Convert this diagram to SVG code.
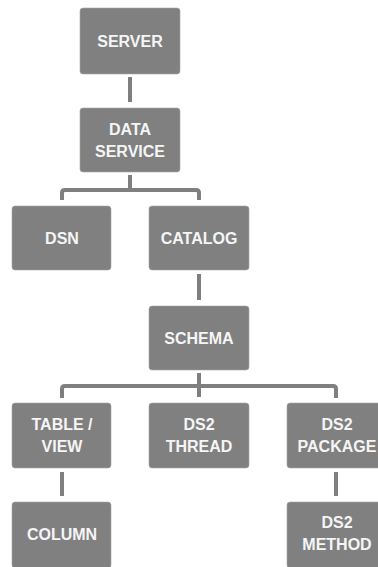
<svg xmlns="http://www.w3.org/2000/svg" width="378" height="567" viewBox="0 0 378 567">
<style>
.box{fill:#808080;stroke:#a6a6a6;stroke-width:0.6}
.t{font-family:"Liberation Sans",Arial,sans-serif;font-weight:bold;font-size:16px;fill:#f5f5f5;text-anchor:middle}
.c{fill:none;stroke:#7f7f7f;stroke-width:4;stroke-linejoin:round}
</style>
<rect width="378" height="567" fill="#ffffff"/>
<g id="connectors">
<path class="c" d="M130,77 V102"/>
<path class="c" d="M130,175 V190 M62,200 V193 Q62,190 65,190 H196 Q199,190 199,193 V200"/>
<path class="c" d="M199,274 V300"/>
<path class="c" d="M199,373 V397 M62,398 V389 Q62,386 65,386 H333 Q336,386 336,389 V398"/>
<path class="c" d="M62,472 V496"/>
<path class="c" d="M336,472 V496"/>
</g>
<g id="server"><rect class="box" x="80" y="8" width="100" height="66" rx="3"/><text class="t" x="130" y="47">SERVER</text></g>
<g id="dataservice"><rect class="box" x="80" y="108" width="100" height="64" rx="3"/><text class="t" x="130" y="135">DATA</text><text class="t" x="130" y="157">SERVICE</text></g>
<g id="dsn"><rect class="box" x="12" y="206" width="99" height="64" rx="3"/><text class="t" x="62" y="244">DSN</text></g>
<g id="catalog"><rect class="box" x="149" y="206" width="100" height="64" rx="3"/><text class="t" x="199" y="244">CATALOG</text></g>
<g id="schema"><rect class="box" x="149" y="306" width="100" height="64" rx="3"/><text class="t" x="199" y="344">SCHEMA</text></g>
<g id="tableview"><rect class="box" x="12" y="403" width="99" height="65" rx="3"/><text class="t" x="62" y="430">TABLE /</text><text class="t" x="62" y="452">VIEW</text></g>
<g id="ds2thread"><rect class="box" x="149" y="403" width="100" height="65" rx="3"/><text class="t" x="199" y="430">DS2</text><text class="t" x="199" y="452">THREAD</text></g>
<g id="ds2package"><rect class="box" x="287" y="403" width="100" height="65" rx="3"/><text class="t" x="337" y="430">DS2</text><text class="t" x="337" y="452">PACKAGE</text></g>
<g id="column"><rect class="box" x="12" y="502" width="99" height="66" rx="3"/><text class="t" x="62" y="540">COLUMN</text></g>
<g id="ds2method"><rect class="box" x="287" y="502" width="100" height="66" rx="3"/><text class="t" x="337" y="528">DS2</text><text class="t" x="337" y="550">METHOD</text></g>
</svg>
